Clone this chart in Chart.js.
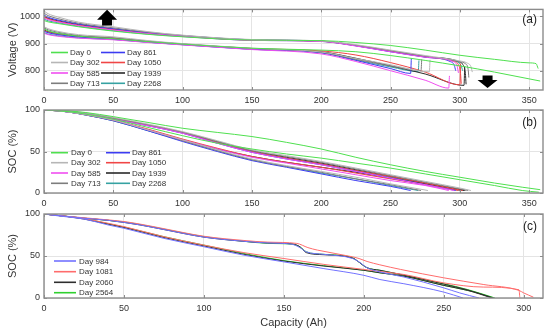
<!DOCTYPE html>
<html><head><meta charset="utf-8">
<script src="https://cdn.jsdelivr.net/npm/chart.js"></script>
<style>
html,body{margin:0;padding:0;background:#fff;}
#wrap{position:relative;width:550px;height:333px;overflow:hidden;background:#fff;}
canvas{position:absolute;left:0;}
</style></head><body>
<div id="wrap">
<canvas id="ca" width="550" height="110" style="top:0px;width:550px;height:110px"></canvas>
<canvas id="cb" width="550" height="114" style="top:100px;width:550px;height:114px"></canvas>
<canvas id="cc" width="550" height="129" style="top:204px;width:550px;height:129px"></canvas>
</div>
<script>
// ---------------- categories / tick labels ----------------
const daysAB = ['Day 0','Day 302','Day 585','Day 713','Day 861','Day 1050','Day 1939','Day 2268'];
const daysC = ['Day 984','Day 1081','Day 2060','Day 2564'];
const capTicksAB = [0,50,100,150,200,250,300,350];
const capTicksC = [0,50,100,150,200,250,300];
const voltTicks = [800,900,1000];
const socTicks = [0,50,100];

// ---------------- (a) voltage [capacity Ah, voltage V] ----------------
const voltHiDay0 = [[0,985],[3,980],[10,974],[25,962],[50,946],[75,934],[100,925],[150,913],[200,911],[225,904],[250,893],[275,876],[300,857],[325,842],[350,829],[355,826],[356.5,808]];
const voltLoDay0 = [[0,955],[3,947],[10,938],[25,927],[50,918],[75,907],[100,898],[150,883],[200,876],[225,870],[250,856],[275,838],[300,818],[325,795],[350,770],[358,762]];
const voltHiDay302 = [[0,1020],[3,1010],[10,998],[25,979],[50,962],[75,944],[100,931],[150,915],[200,910],[225,896],[250,876],[275,856],[300,836],[305,829],[308,815],[309,795]];
const voltLoDay302 = [[0,962],[3,955],[10,945],[25,933],[50,925],[75,911],[100,900],[150,883],[200,869],[225,845],[250,822],[278,796],[278.5,840]];
const voltHiDay585 = [[0,995],[3,988],[10,980],[25,966],[50,950],[75,937],[100,927],[150,912],[200,908],[225,891],[250,870],[275,850],[295,834],[298,818],[299,792]];
const voltLoDay585 = [[0,938],[3,933],[10,927],[25,920],[50,914],[75,904],[100,895],[150,878],[200,862],[225,834],[250,800],[275,765],[292,736],[292.5,781]];
const voltHiDay713 = [[0,1012],[3,1003],[10,992],[25,975],[50,958],[75,942],[100,930],[150,914],[200,909],[225,894],[250,874],[275,853],[300,833],[304,826],[306,805],[306.5,775]];
const voltLoDay713 = [[0,958],[3,951],[10,942],[25,930],[50,922],[75,909],[100,899],[150,882],[200,868],[225,842],[250,818],[272,800],[272.5,842]];
const voltHiDay861 = [[0,1005],[3,997],[10,987],[25,972],[50,955],[75,940],[100,929],[150,914],[200,909],[225,892],[250,870],[275,850],[293,834],[296,820],[297,800]];
const voltLoDay861 = [[0,945],[3,940],[10,933],[25,924],[50,916],[75,905],[100,896],[150,879],[200,866],[225,838],[250,808],[264.5,790],[265,845]];
const voltHiDay1050 = [[0,998],[3,991],[10,982],[25,968],[50,952],[75,938],[100,928],[150,913],[200,909],[225,893],[250,872],[275,851],[296,834],[299,822],[300.5,790],[301,752]];
const voltLoDay1050 = [[0,948],[3,942],[10,935],[25,926],[50,919],[75,907],[100,898],[150,882],[200,873],[225,858],[250,830],[275,795],[300,748],[300.5,826]];
const voltHiDay1939 = [[0,1000],[3,993],[10,984],[25,970],[50,953],[75,939],[100,928],[150,913],[200,909],[225,893],[250,872],[275,852],[300,832],[302,824],[304,790],[304.5,750]];
const voltLoDay1939 = [[0,950],[3,944],[10,937],[25,927],[50,920],[75,908],[100,898],[150,881],[200,870],[225,846],[250,818],[275,788],[303,746],[303.5,815]];
const voltHiDay2268 = [[0,990],[3,984],[10,977],[25,964],[50,948],[75,935],[100,926],[150,912],[200,908],[225,892],[250,871],[275,851],[298,833],[301,818],[302,800]];
const voltLoDay2268 = [[0,940],[3,935],[10,929],[25,921],[50,915],[75,905],[100,896],[150,879],[200,867],[225,840],[250,814],[270,797],[270.5,838]];

// ---------------- (b) SOC [capacity Ah, SOC %] ----------------
const socHiDay0 = [[0,100],[10,99.5],[20,98.5],[30,97],[50,92],[75,85],[100,78],[125,73],[150,68],[175,61],[200,53],[225,43],[250,34],[275,26],[300,19],[325,12],[345,7],[358,4]];
const socLoDay0 = [[0,100],[10,99],[20,97.5],[30,95],[50,89],[75,79],[100,69],[125,60],[150,53],[175,47],[200,42],[225,36],[250,30],[275,23],[300,16],[325,9],[345,3],[357,1]];
const socHiDay302 = [[0,100],[10,99.5],[20,98.5],[30,96.5],[50,91],[75,83],[100,74],[125,63],[150,52],[175,45],[200,38],[225,30],[250,22],[275,14],[300,6],[308,3]];
const socLoDay302 = [[0,100],[10,99],[20,97],[30,94.5],[50,88],[75,76],[100,64],[125,52],[150,41],[175,33],[200,26],[225,19],[250,11],[277,3]];
const socHiDay585 = [[0,100],[10,99.5],[20,98],[30,95.5],[50,89],[75,81],[100,72],[125,60],[150,49],[175,41],[200,34],[225,26],[250,18],[275,10],[296,3]];
const socLoDay585 = [[0,100],[10,99],[20,97],[30,94.5],[50,88],[75,76],[100,64],[125,53],[150,43],[175,36],[200,29],[225,22],[250,15],[275,9],[292,3]];
const socHiDay713 = [[0,100],[10,99.5],[20,98],[30,96],[50,90],[75,82],[100,73],[125,62],[150,51],[175,44],[200,37],[225,29],[250,21],[275,13],[300,5],[306,3]];
const socLoDay713 = [[0,100],[10,99],[20,97],[30,94],[50,87.5],[75,76],[100,63],[125,51],[150,40],[175,32],[200,25],[225,17],[250,10],[272,3]];
const socHiDay861 = [[0,100],[10,99.5],[20,98],[30,95.5],[50,89],[75,81],[100,72],[125,60],[150,49],[175,41],[200,34],[225,26],[250,18],[275,10],[297,3]];
const socLoDay861 = [[0,100],[10,99],[20,97],[30,94],[50,87],[75,75],[100,62],[125,50],[150,39],[175,31],[200,23],[225,15],[250,8],[264.5,3]];
const socHiDay1050 = [[0,100],[10,99.5],[20,98],[30,96],[50,90],[75,82],[100,73],[125,61],[150,50],[175,42],[200,35],[225,27],[250,20],[275,12],[302,3]];
const socLoDay1050 = [[0,100],[10,99],[20,97.5],[30,95],[50,88],[75,77],[100,65],[125,54],[150,44],[175,37],[200,31],[225,24],[250,17],[275,10],[299,3]];
const socHiDay1939 = [[0,100],[10,99.5],[20,98],[30,96],[50,90],[75,82],[100,73],[125,62],[150,51],[175,43],[200,36],[225,28],[250,20],[275,12],[304,3]];
const socLoDay1939 = [[0,100],[10,99],[20,97],[30,94.5],[50,88],[75,76],[100,64],[125,53],[150,44],[175,37],[200,31],[225,25],[250,18],[275,11],[303,3]];
const socHiDay2268 = [[0,100],[10,99.5],[20,98],[30,96],[50,90],[75,82],[100,73],[125,61],[150,50],[175,42],[200,35],[225,27],[250,19],[275,11],[300,3]];
const socLoDay2268 = [[0,100],[10,99],[20,97],[30,94],[50,87],[75,75],[100,63],[125,51],[150,40],[175,32],[200,24],[225,17],[250,9],[270,3]];

// ---------------- (c) SOC [capacity Ah, SOC %] ----------------
const socCHiDay984 = [[0,100],[10,98],[25,95],[40,92.5],[50,90],[60,87],[75,81.5],[100,72.5],[125,67.5],[140,65.5],[155,64],[160,60],[164,55],[175,52],[193,47],[197,43],[202,36],[210,31],[225,25],[250,12],[260,6],[272,0]];
const socCLoDay984 = [[0,100],[10,97.5],[25,94],[40,87],[50,83],[75,71],[100,61],[125,51],[150,43],[175,35],[200,27],[210,22],[225,17],[250,7],[262,0]];
const socCHiDay1081 = [[0,100],[10,98],[25,95.5],[40,93],[50,91],[60,88],[75,82.5],[100,73.5],[125,68.5],[140,66.5],[158,65],[165,60],[171,57],[193,49],[197,47],[202,43.5],[210,39.5],[223,34],[250,24],[275,16],[297,9],[300,6],[306,1]];
const socCLoDay1081 = [[0,100],[10,98],[25,94.5],[40,89],[50,85],[75,73],[100,63],[125,54],[150,47],[175,40],[200,34],[210,31.6],[225,28],[250,18],[275,13],[297,9.8],[297.5,0.5]];
const socCHiDay2060 = [[0,100],[10,98],[25,95],[40,92.5],[50,90],[60,87],[75,81.5],[100,72.5],[125,67.5],[140,65.5],[155,64.5],[160,61],[164,54],[175,51.5],[193,47.5],[196,44],[202,36],[210,33],[223,28],[250,16.5],[265,9.5],[272,5.5],[281,0]];
const socCLoDay2060 = [[0,100],[10,98],[25,94],[40,88],[50,84],[75,72],[100,62],[125,52],[150,44],[175,38],[200,33],[210,30],[225,26],[250,15],[265,9],[272,5],[280,0]];
const socCHiDay2564 = [[0,100],[10,98],[25,95],[40,92.5],[50,90.5],[60,87.5],[75,82],[100,73],[125,67.5],[140,65],[155,64],[160,61],[164,55],[175,52],[193,48],[196,44],[202,36],[210,33],[223,28],[250,17],[265,10],[272,6],[282,0]];
const socCLoDay2564 = [[0,100],[10,98],[25,94.5],[40,88.5],[50,84.5],[75,73],[100,63],[125,53],[150,44.5],[175,38.5],[200,33],[210,30],[225,26],[250,15],[265,9],[273,5],[281,0]];

// ---------------- grouping (same order as days) ----------------
const voltHi = [voltHiDay0,voltHiDay302,voltHiDay585,voltHiDay713,voltHiDay861,voltHiDay1050,voltHiDay1939,voltHiDay2268];
const voltLo = [voltLoDay0,voltLoDay302,voltLoDay585,voltLoDay713,voltLoDay861,voltLoDay1050,voltLoDay1939,voltLoDay2268];
const socHi = [socHiDay0,socHiDay302,socHiDay585,socHiDay713,socHiDay861,socHiDay1050,socHiDay1939,socHiDay2268];
const socLo = [socLoDay0,socLoDay302,socLoDay585,socLoDay713,socLoDay861,socLoDay1050,socLoDay1939,socLoDay2268];
const socCHi = [socCHiDay984,socCHiDay1081,socCHiDay2060,socCHiDay2564];
const socCLo = [socCLoDay984,socCLoDay1081,socCLoDay2060,socCLoDay2564];

// ---------------- styles ----------------
const FONT = "'Liberation Sans', Arial, Helvetica, sans-serif";
const colorsAB = ['#4fe04f','#b6b6b6','#f04ef0','#7d7d7d','#3c3cf2','#f04646','#2a2a2a','#36a2a2'];
const colorsC = ['#7272ff','#ff6c6c','#2e2e2e','#2fd02f'];
const GRID = '#e4e4e4', AXIS = '#8c8c8c', TXT = '#333333';

const toXY = arr => arr.map(p => ({x: p[0], y: p[1]}));

const panelDeco = {
  id: 'panelDeco',
  afterDraw(chart, args, o) {
    const ctx = chart.ctx, a = chart.chartArea, xs = chart.scales.x, ys = chart.scales.y;
    ctx.save();
    // inward ticks on all four sides
    ctx.strokeStyle = AXIS; ctx.lineWidth = 1;
    ctx.beginPath();
    xs.ticks.forEach(t => {
      const p = Math.round(xs.getPixelForValue(t.value)) + 0.5;
      ctx.moveTo(p, a.bottom); ctx.lineTo(p, a.bottom - 3);
      ctx.moveTo(p, a.top); ctx.lineTo(p, a.top + 3);
    });
    ys.ticks.forEach(t => {
      const p = Math.round(ys.getPixelForValue(t.value)) + 0.5;
      ctx.moveTo(a.left, p); ctx.lineTo(a.left + 3, p);
      ctx.moveTo(a.right, p); ctx.lineTo(a.right - 3, p);
    });
    ctx.stroke();
    // box
    ctx.lineWidth = 1.4; ctx.strokeStyle = AXIS;
    ctx.strokeRect(a.left, a.top, a.right - a.left, a.bottom - a.top);
    // panel letter
    ctx.fillStyle = '#1e1e1e'; ctx.font = '12px ' + FONT;
    ctx.textAlign = 'right'; ctx.textBaseline = 'middle';
    ctx.fillText(o.letter, o.letterX, o.letterY);
    // legend
    const L = o.legend;
    ctx.font = '8px ' + FONT; ctx.textAlign = 'left'; ctx.textBaseline = 'middle';
    L.items.forEach((it, i) => {
      const col = L.cols[Math.floor(i / L.rows.length)], y = L.rows[i % L.rows.length];
      ctx.strokeStyle = it.color; ctx.lineWidth = 1.6;
      ctx.beginPath(); ctx.moveTo(col.x0, y); ctx.lineTo(col.x1, y); ctx.stroke();
      ctx.fillStyle = TXT; ctx.fillText(it.text, col.tx, y + 0.5);
    });
    // arrows (in data coordinates)
    (o.arrows || []).forEach(ar => {
      const cx = xs.getPixelForValue(ar.x), tip = ys.getPixelForValue(ar.tip), tail = ys.getPixelForValue(ar.tail);
      const dir = tail > tip ? 1 : -1, hb = tip + dir * ar.head;
      ctx.fillStyle = '#000';
      ctx.beginPath();
      ctx.moveTo(cx, tip);
      ctx.lineTo(cx + ar.hw / 2, hb); ctx.lineTo(cx + ar.sw / 2, hb); ctx.lineTo(cx + ar.sw / 2, tail);
      ctx.lineTo(cx - ar.sw / 2, tail); ctx.lineTo(cx - ar.sw / 2, hb); ctx.lineTo(cx - ar.hw / 2, hb);
      ctx.closePath(); ctx.fill();
    });
    ctx.restore();
  }
};

function makeDatasets(labels, colors, hi, lo, width) {
  const ds = [];
  labels.forEach((lab, i) => {
    [lo[i], hi[i]].forEach(arr => ds.push({
      label: lab, data: toXY(arr), borderColor: colors[i], borderWidth: width,
      pointRadius: 0, fill: false, cubicInterpolationMode: 'monotone'
    }));
  });
  return ds;
}

function axisX(maxV, ticks, height, title) {
  return {
    type: 'linear', min: 0, max: maxV,
    afterBuildTicks: s => { s.ticks = ticks.map(v => ({value: v})); },
    afterFit: s => { s.height = height; },
    grid: {color: GRID, drawTicks: false, lineWidth: 1},
    border: {display: false},
    ticks: {padding: 5, color: TXT, font: {size: 9, family: FONT}, maxRotation: 0, autoSkip: false, callback: v => String(v)},
    title: title ? {display: true, text: title, color: TXT, font: {size: 11, family: FONT}, padding: {top: 0, bottom: 3}} : {display: false}
  };
}
function axisY(minV, maxV, ticks, title) {
  return {
    type: 'linear', min: minV, max: maxV,
    afterBuildTicks: s => { s.ticks = ticks.map(v => ({value: v})); },
    afterFit: s => { s.width = 44; },
    grid: {color: GRID, drawTicks: false, lineWidth: 1},
    border: {display: false},
    ticks: {padding: 4, color: TXT, font: {size: 9, family: FONT}, autoSkip: false, callback: v => String(v)},
    title: {display: true, text: title, color: TXT, font: {size: 11, family: FONT}, padding: {top: 6, bottom: 0}}
  };
}

function build(id, datasets, scales, padTop, deco) {
  return new Chart(document.getElementById(id), {
    type: 'line',
    data: {datasets},
    options: {
      responsive: false, animation: false, devicePixelRatio: 1,
      layout: {padding: {top: padTop, right: 7, left: 0, bottom: 0}},
      plugins: {legend: {display: false}, tooltip: {enabled: false}, panelDeco: deco},
      scales
    },
    plugins: [panelDeco]
  });
}

const legendAB = (rows, c1, c2) => ({
  items: daysAB.map((d, i) => ({text: d, color: colorsAB[i]})),
  rows, cols: [c1, c2]
});

// (a)
build('ca', makeDatasets(daysAB, colorsAB, voltHi, voltLo, 1),
  {x: axisX(360, capTicksAB, 20), y: axisY(729, 1026, voltTicks, 'Voltage (V)')}, 7,
  {letter: '(a)', letterX: 537, letterY: 20,
   legend: legendAB([52.5, 62.5, 73, 83.3], {x0: 51, x1: 68, tx: 70}, {x0: 101, x1: 125, tx: 127}),
   arrows: [{x: 45.5, tip: 1025, tail: 967, head: 10, hw: 20, sw: 10},
            {x: 320, tip: 736, tail: 782, head: 8, hw: 20, sw: 10}]});

// (b)
build('cb', makeDatasets(daysAB, colorsAB, socHi, socLo, 1),
  {x: axisX(360, capTicksAB, 21), y: axisY(0, 100, socTicks, 'SOC (%)')}, 10,
  {letter: '(b)', letterX: 537, letterY: 23,
   legend: legendAB([52.7, 62.7, 73, 83.3], {x0: 51, x1: 68, tx: 71}, {x0: 106, x1: 130, tx: 132})});

// (c)
build('cc', makeDatasets(daysC, colorsC, socCHi, socCLo, 1),
  {x: axisX(312, capTicksC, 35, 'Capacity (Ah)'), y: axisY(0, 100, socTicks, 'SOC (%)')}, 10,
  {letter: '(c)', letterX: 537, letterY: 23,
   legend: {items: daysC.map((d, i) => ({text: d, color: colorsC[i]})),
            rows: [57, 67.7, 78.3, 88.7], cols: [{x0: 54, x1: 76, tx: 79}]}});
</script>
</body></html>
